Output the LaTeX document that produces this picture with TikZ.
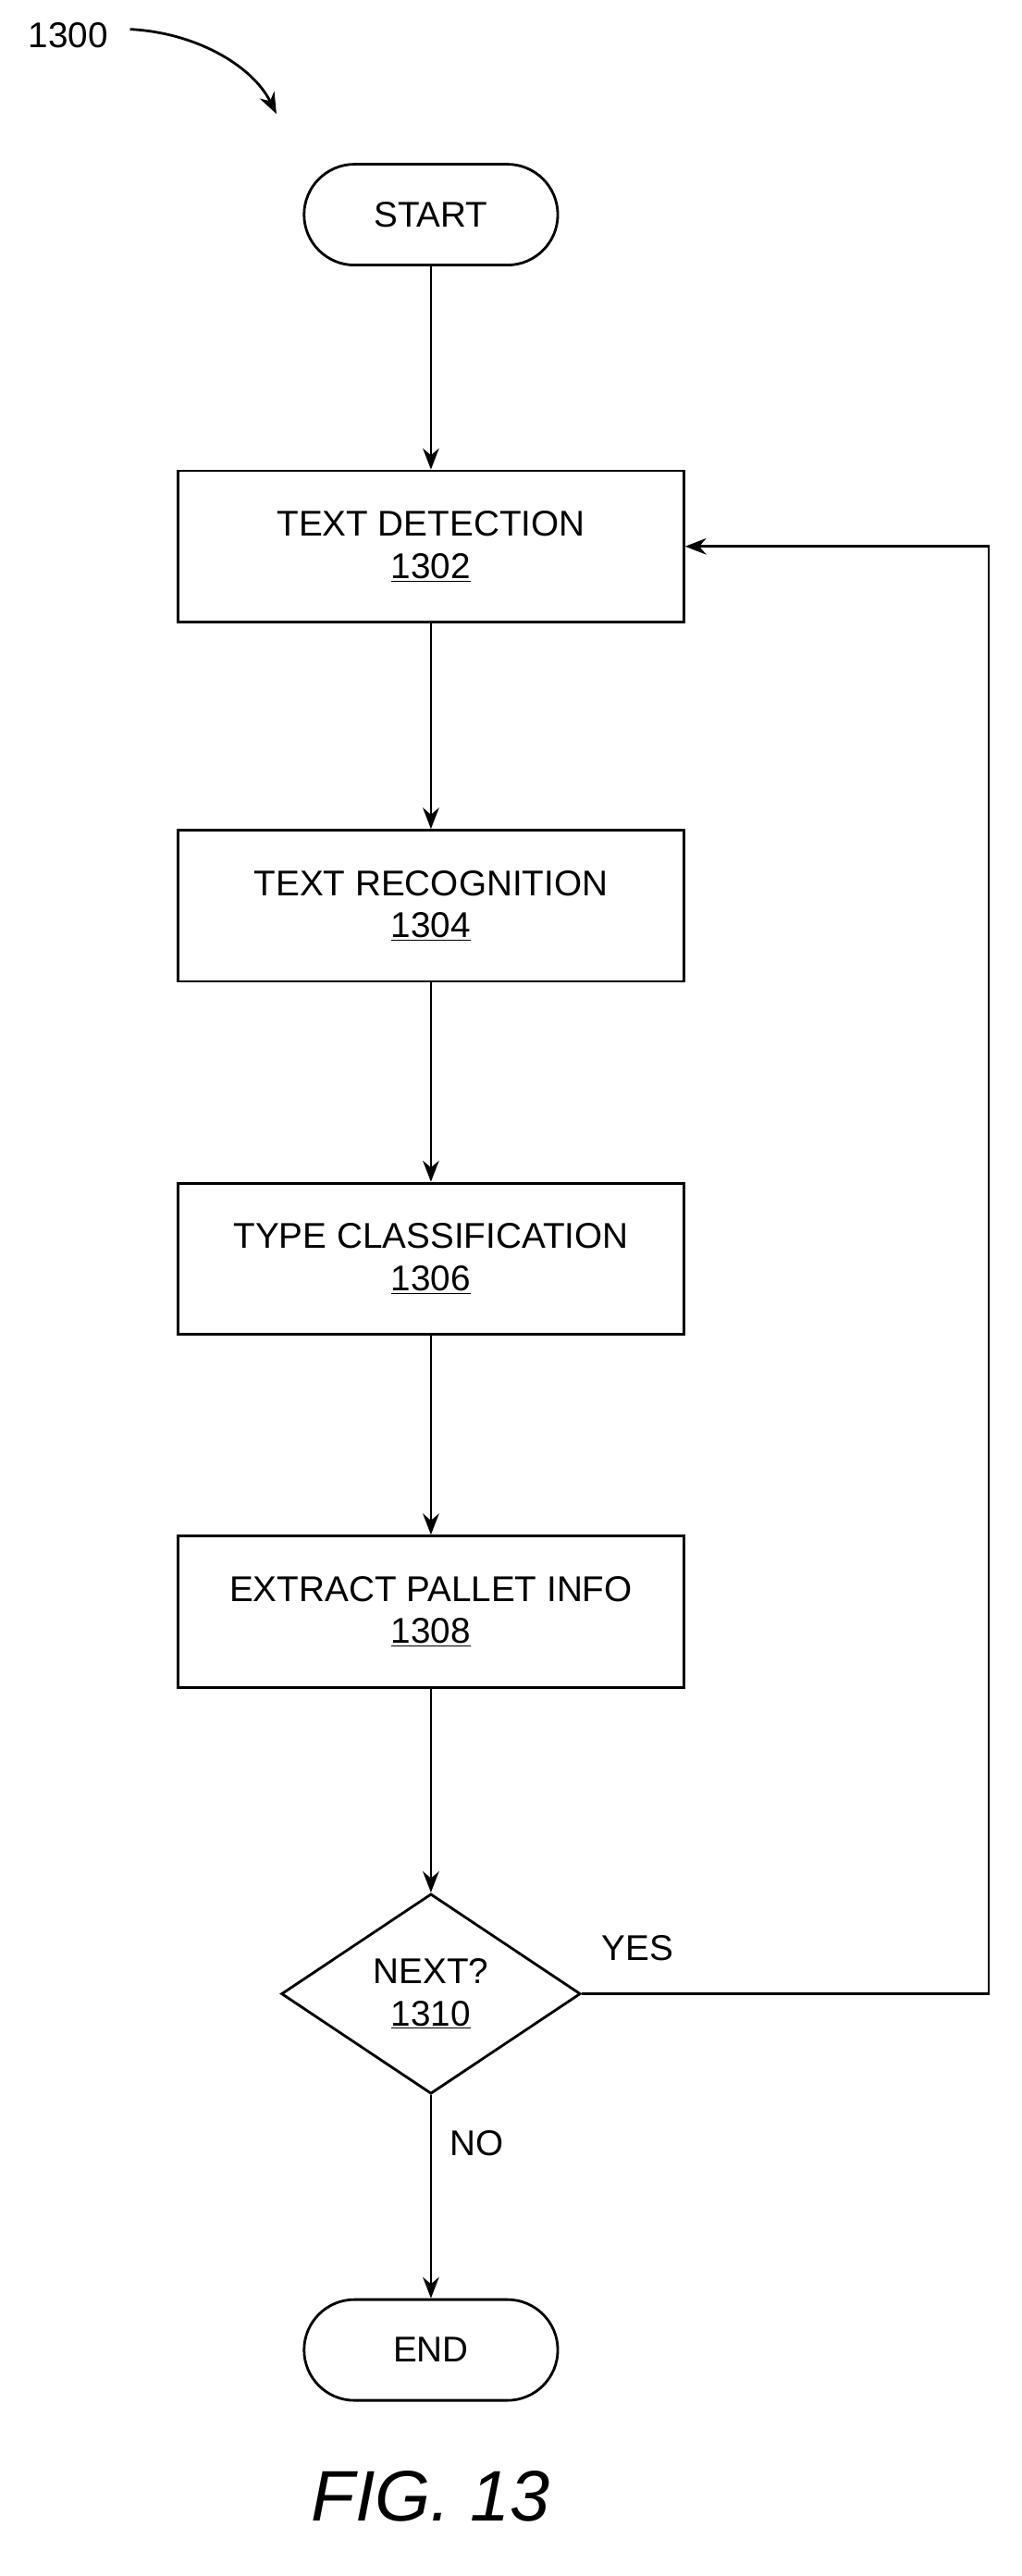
\documentclass[tikz,border=0pt]{standalone}
\usepackage{fontspec}
\setmainfont{Liberation Sans}
\usetikzlibrary{shapes.geometric,arrows.meta}
\begin{document}
\begin{tikzpicture}[x=1pt,y=-1pt,line width=1.6pt,
  every node/.style={font=\fontsize{22}{26}\selectfont},
  term/.style={draw,rounded corners=31pt,minimum width=156pt,minimum height=62pt},
  proc/.style={draw,minimum width=311pt,minimum height=93pt,align=center},
  dec/.style={draw,diamond,aspect=1.5,minimum width=184pt,minimum height=123pt,align=center,inner sep=0pt},
  arr/.style={-{Stealth[length=13pt,width=10pt]}}]
\useasboundingbox (0,0) rectangle (628,1584);
\node (lbl) at (42,22) {1300};
\coordinate (lblend) at (170,70);
\draw[arr] (80,18) .. controls (120,20) and (155,40) .. (lblend);
\node[term] (start) at (265,132) {START};
\node[proc] (a) at (265,336) {TEXT DETECTION\\\underline{1302}};
\node[proc] (b) at (265,557) {TEXT RECOGNITION\\\underline{1304}};
\node[proc] (c) at (265,774) {TYPE CLASSIFICATION\\\underline{1306}};
\node[proc] (d) at (265,991) {EXTRACT PALLET INFO\\\underline{1308}};
\node[dec] (e) at (265,1226) {NEXT?\\\underline{1310}};
\node[term] (end) at (265,1445) {END};
\coordinate (corner1) at (608,1226);
\coordinate (corner2) at (608,336);
\draw[arr] (start) -- (a);
\draw[arr] (a) -- (b);
\draw[arr] (b) -- (c);
\draw[arr] (c) -- (d);
\draw[arr] (d) -- (e);
\draw[arr] (e) -- (end);
\draw[arr] (e.east) -- (corner1) -- (corner2) -- (a.east);
\node (yes) at (392,1198) {YES};
\node (no) at (293,1318) {NO};
\node[font=\fontsize{44}{50}\selectfont\itshape] (fig) at (265,1535) {FIG. 13};
\end{tikzpicture}
\end{document}
